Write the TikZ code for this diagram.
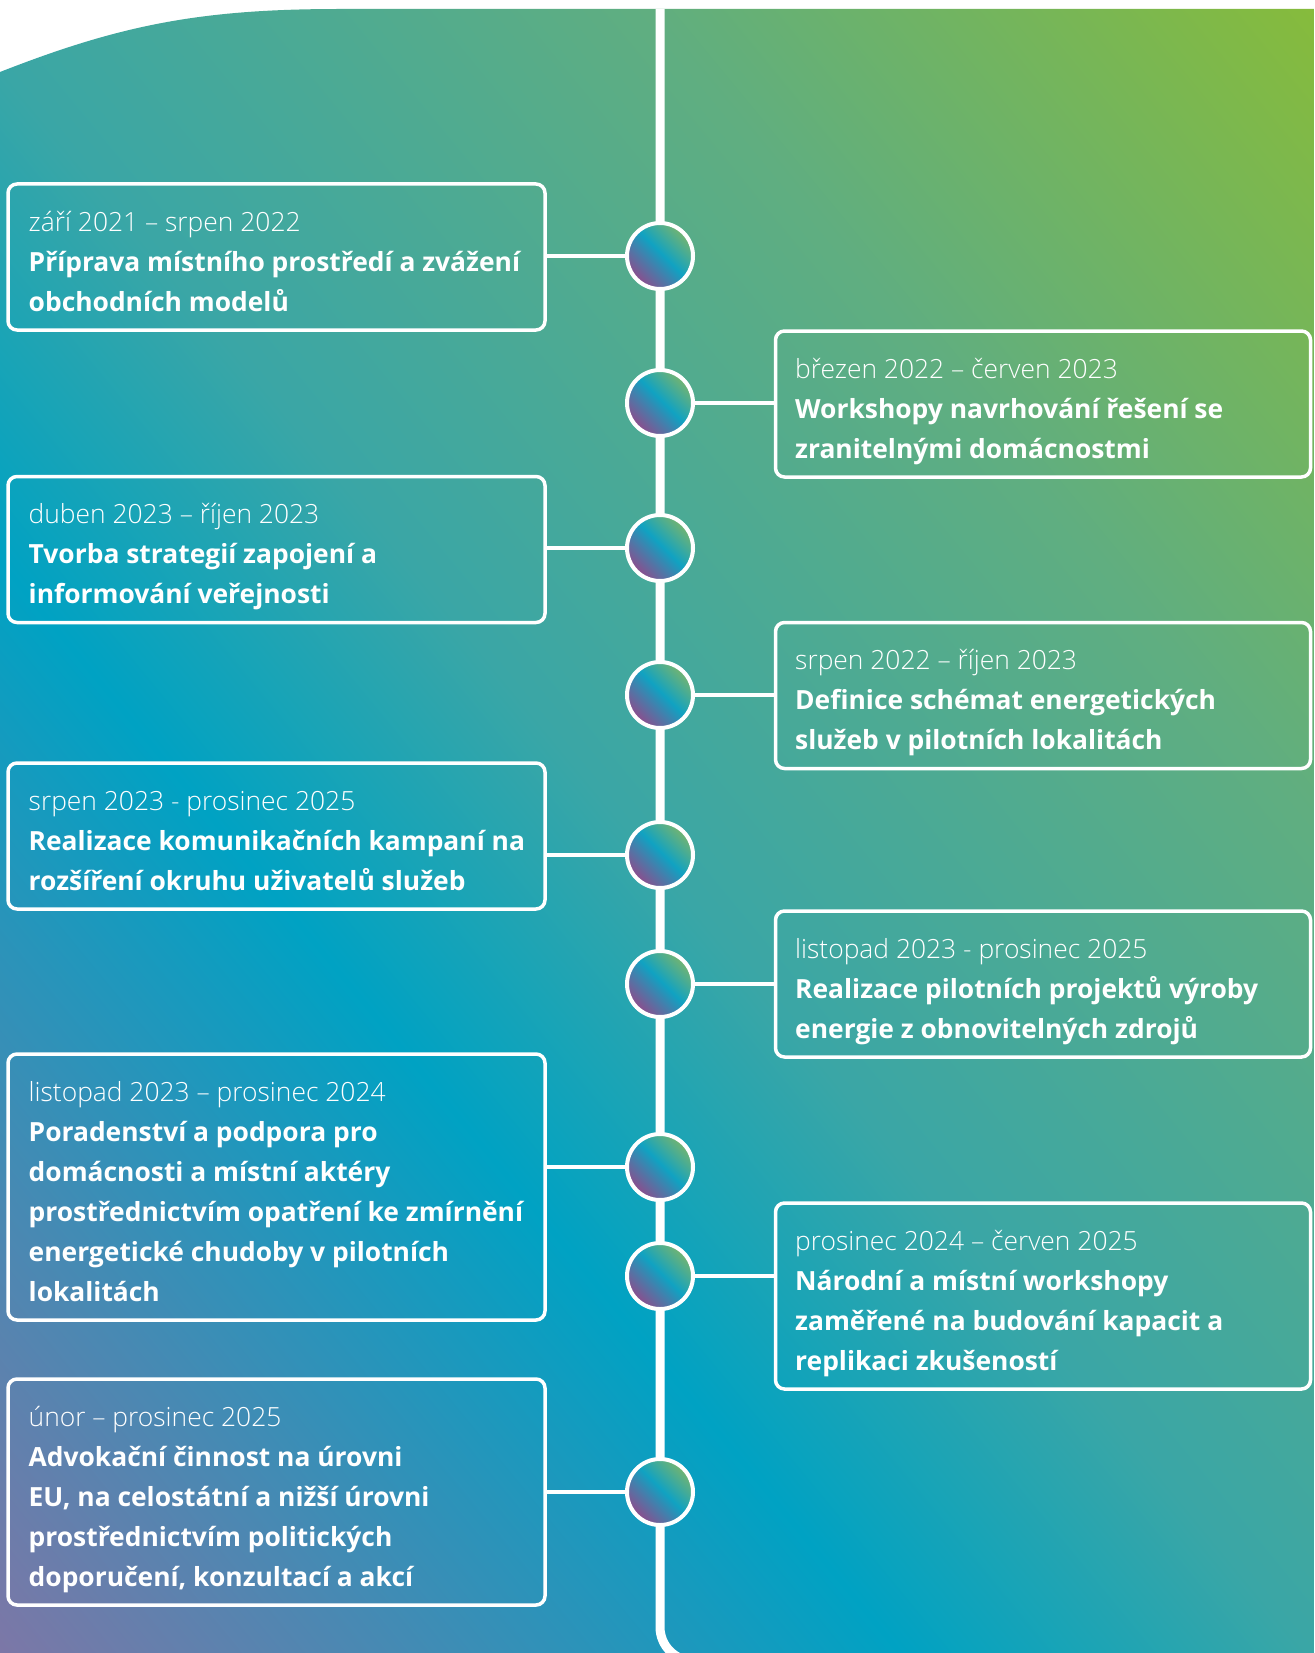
\documentclass[tikz,border=0pt]{standalone}
\usepackage{fontspec}
\setmainfont{Open Sans}
\IfFontExistsTF{Open Sans Light}{\newfontfamily\datefont{Open Sans Light}}{\newfontfamily\datefont{Open Sans}}
\definecolor{bgpurple}{HTML}{7C77A7}
\definecolor{bgcyan}{HTML}{00A2C3}
\definecolor{bgteal}{HTML}{3AA6A6}
\definecolor{bgsage}{HTML}{60AE80}
\definecolor{bggreen}{HTML}{86BB3C}
\definecolor{dpurple}{HTML}{8E4C8C}
\definecolor{dcyan}{HTML}{10A2C2}
\definecolor{dgreen}{HTML}{74B470}
\pgfdeclareverticalshading{bgshade}{100bp}{color(0bp)=(bgpurple); color(25bp)=(bgpurple); color(41.85bp)=(bgcyan); color(49.5bp)=(bgteal); color(62.5bp)=(bgsage); color(75bp)=(bggreen); color(100bp)=(bggreen)}
\pgfdeclareverticalshading{dotshade}{100bp}{color(0bp)=(dpurple); color(25bp)=(dpurple); color(52bp)=(dcyan); color(75bp)=(dgreen); color(100bp)=(dgreen)}
\begin{document}
\begin{tikzpicture}[x=1pt,y=-1pt,
  tbox/.style={draw=white, line width=3.5pt, rounded corners=9pt, inner sep=0pt, outer sep=0pt, anchor=north west},
  lbox/.style={tbox, minimum width=537pt},
  rbox/.style={tbox, minimum width=535pt},
  ttext/.style={text=white, align=left, anchor=base west, inner sep=0pt, font=\fontsize{26.4}{40}\selectfont},
  mdot/.style={circle, draw=white, line width=4pt, minimum size=66pt, inner sep=0pt, outer sep=0pt, shade, shading=dotshade, shading angle=-45},
  conn/.style={draw=white, line width=4pt}]
\useasboundingbox[fill=white] (0,0) rectangle (1314,1653);
\begin{scope}
  \clip (0,72) .. controls (120,25) and (200,9) .. (340,9) -- (1314,9) -- (1314,1653) -- (0,1653) -- cycle;
  \shade[shading=bgshade, shading angle=-50.5] (-375.5,-201.5) rectangle (1689.5,1863.5);
  \draw[white, line width=9pt] (660,0) -- (660,1627) arc[start angle=180, end angle=90, radius=34];
\end{scope}
% boxes
\node[lbox, minimum height=146pt] (b1) at (8,184) {};
\node[rbox, minimum height=146pt] (b2) at (775.5,331) {};
\node[lbox, minimum height=146pt] (b3) at (8,476.5) {};
\node[rbox, minimum height=146pt] (b4) at (775.5,622.5) {};
\node[lbox, minimum height=146pt] (b5) at (8,763) {};
\node[rbox, minimum height=146pt] (b6) at (775.5,911) {};
\node[lbox, minimum height=266pt] (b7) at (8,1054) {};
\node[rbox, minimum height=186pt] (b8) at (775.5,1203) {};
\node[lbox, minimum height=226pt] (b9) at (8,1379) {};
% circles
\node[mdot] (c1) at (660,256) {};
\node[mdot] (c2) at (660,403) {};
\node[mdot] (c3) at (660,548) {};
\node[mdot] (c4) at (660,695) {};
\node[mdot] (c5) at (660,855) {};
\node[mdot] (c6) at (660,984) {};
\node[mdot] (c7) at (660,1167) {};
\node[mdot] (c8) at (660,1276) {};
\node[mdot] (c9) at (660,1492) {};
% connectors
\draw[conn] (b1.east |- c1.center) -- (c1.west);
\draw[conn] (c2.east) -- (b2.west |- c2.center);
\draw[conn] (b3.east |- c3.center) -- (c3.west);
\draw[conn] (c4.east) -- (b4.west |- c4.center);
\draw[conn] (b5.east |- c5.center) -- (c5.west);
\draw[conn] (c6.east) -- (b6.west |- c6.center);
\draw[conn] (b7.east |- c7.center) -- (c7.west);
\draw[conn] (c8.east) -- (b8.west |- c8.center);
\draw[conn] (b9.east |- c9.center) -- (c9.west);
% texts (anchor = baseline of last line)
\node[ttext] (t1) at (28.5,311) {{\datefont září 2021 – srpen 2022}\\{\bfseries Příprava místního prostředí a zvážení}\\{\bfseries obchodních modelů}};
\node[ttext] (t2) at (795,458) {{\datefont březen 2022 – červen 2023}\\{\bfseries Workshopy navrhování řešení se}\\{\bfseries zranitelnými domácnostmi}};
\node[ttext] (t3) at (28.5,603.5) {{\datefont duben 2023 – říjen 2023}\\{\bfseries Tvorba strategií zapojení a}\\{\bfseries informování veřejnosti}};
\node[ttext] (t4) at (795,749.5) {{\datefont srpen 2022 – říjen 2023}\\{\bfseries Definice schémat energetických}\\{\bfseries služeb v pilotních lokalitách}};
\node[ttext] (t5) at (28.5,890) {{\datefont srpen 2023 - prosinec 2025}\\{\bfseries Realizace komunikačních kampaní na}\\{\bfseries rozšíření okruhu uživatelů služeb}};
\node[ttext] (t6) at (795,1038) {{\datefont listopad 2023 - prosinec 2025}\\{\bfseries Realizace pilotních projektů výroby}\\{\bfseries energie z obnovitelných zdrojů}};
\node[ttext] (t7) at (28.5,1301) {{\datefont listopad 2023 – prosinec 2024}\\{\bfseries Poradenství a podpora pro}\\{\bfseries domácnosti a místní aktéry}\\{\bfseries prostřednictvím opatření ke zmírnění}\\{\bfseries energetické chudoby v pilotních}\\{\bfseries lokalitách}};
\node[ttext] (t8) at (795,1370) {{\datefont prosinec 2024 – červen 2025}\\{\bfseries Národní a místní workshopy}\\{\bfseries zaměřené na budování kapacit a}\\{\bfseries replikaci zkušeností}};
\node[ttext] (t9) at (28.5,1586) {{\datefont únor – prosinec 2025}\\{\bfseries Advokační činnost na úrovni}\\{\bfseries EU, na celostátní a nižší úrovni}\\{\bfseries prostřednictvím politických}\\{\bfseries doporučení, konzultací a akcí}};
\end{tikzpicture}
\end{document}
